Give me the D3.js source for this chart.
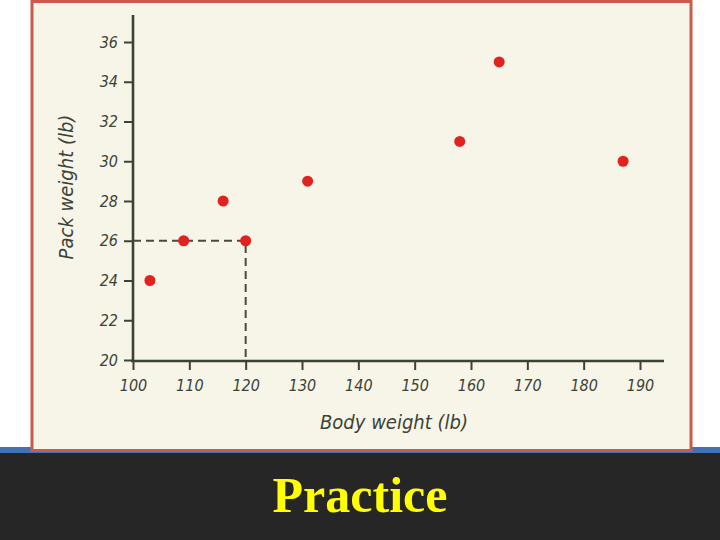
<!DOCTYPE html>
<html>
<head>
<meta charset="utf-8">
<script src="https://cdn.jsdelivr.net/npm/d3@7"></script>
<style>
  body { margin: 0; background: #ffffff; }
  svg { display: block; }
</style>
</head>
<body>
<svg id="chart" width="720" height="540"></svg>
<script>
// backpack data: body weight vs pack weight
var bodyWeight = [120, 187, 109, 103, 131, 165, 158, 116];
var packWeight = [26, 30, 26, 24, 29, 35, 31, 28];
var xTicks = [100, 110, 120, 130, 140, 150, 160, 170, 180, 190];
var yTicks = [20, 22, 24, 26, 28, 30, 32, 34, 36];
var highlight = [120, 26];

var svg = d3.select("#chart");
var handFont = "'Liberation Sans Narrow', 'DejaVu Sans Condensed', sans-serif";
var ink = "#3b4236";

// bottom band
svg.append("rect").attr("x", 0).attr("y", 447).attr("width", 720).attr("height", 7).attr("fill", "#4372b4");
svg.append("rect").attr("x", 0).attr("y", 453).attr("width", 720).attr("height", 87).attr("fill", "#262626");

// page frame
svg.append("rect")
    .attr("x", 32).attr("y", 1.5).attr("width", 659).attr("height", 449)
    .attr("fill", "#f7f5e8")
    .attr("stroke", "#cb5a4e")
    .attr("stroke-width", 3);

// scales
var x = d3.scaleLinear().domain([100, 190]).range([133, 640]);
var y = d3.scaleLinear().domain([20, 36]).range([360, 42]);

var g = svg.append("g");

// axes
var xAxis = d3.axisBottom(x).tickValues(xTicks).tickSize(9).tickPadding(10).tickSizeOuter(0);
var yAxis = d3.axisLeft(y).tickValues(yTicks).tickSize(9).tickPadding(6).tickSizeOuter(0);

var gx = g.append("g").attr("transform", "translate(0,361)").call(xAxis);
gx.select(".domain").remove();
gx.append("line").attr("x1", 131).attr("x2", 664).attr("y1", 0).attr("y2", 0)
    .attr("stroke", ink).attr("stroke-width", 2.6);

var gy = g.append("g").attr("transform", "translate(133,0)").call(yAxis);
gy.select(".domain").remove();
gy.append("line").attr("x1", 0).attr("x2", 0).attr("y1", 15).attr("y2", 362)
    .attr("stroke", ink).attr("stroke-width", 2.6);

g.selectAll(".tick line").attr("stroke", ink).attr("stroke-width", 2);
g.selectAll(".tick text")
    .attr("fill", ink)
    .style("font-family", handFont)
    .style("font-style", "italic")
    .style("font-size", "16px");

// axis titles
g.append("text")
    .attr("x", 394).attr("y", 429)
    .attr("text-anchor", "middle")
    .attr("fill", ink)
    .style("font-family", handFont)
    .style("font-style", "italic")
    .style("font-size", "20px")
    .text("Body weight (lb)");

g.append("text")
    .attr("transform", "translate(73,187) rotate(-90)")
    .attr("text-anchor", "middle")
    .attr("fill", ink)
    .style("font-family", handFont)
    .style("font-style", "italic")
    .style("font-size", "20px")
    .text("Pack weight (lb)");

// dashed guide to the highlighted point
g.append("path")
    .attr("d", "M" + x(100) + "," + y(highlight[1]) + "H" + x(highlight[0]) + "V" + y(20))
    .attr("fill", "none")
    .attr("stroke", "#4a4a44")
    .attr("stroke-width", 2)
    .attr("stroke-dasharray", "8,5");

// points
g.selectAll("circle.pt")
    .data(bodyWeight)
    .enter()
    .append("circle")
    .attr("class", "pt")
    .attr("cx", function(d) { return x(d); })
    .attr("cy", function(d, i) { return y(packWeight[i]); })
    .attr("r", 5.5)
    .attr("fill", "#e1221e");

// caption
svg.append("text")
    .attr("x", 360).attr("y", 512)
    .attr("text-anchor", "middle")
    .attr("fill", "#ffff00")
    .style("font-family", "'Liberation Serif', 'DejaVu Serif', serif")
    .style("font-weight", "bold")
    .style("font-size", "50px")
    .text("Practice");
</script>
</body>
</html>
